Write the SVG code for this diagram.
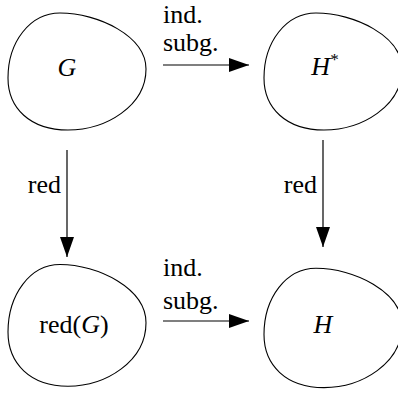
<svg xmlns="http://www.w3.org/2000/svg" xmlns:xlink="http://www.w3.org/1999/xlink" width="398" height="394" viewBox="0 0 398 394">
<style>
.blob{fill:none;stroke:#000;stroke-width:1.1}
text{font-family:"Liberation Serif","Times New Roman",serif;font-size:26px;fill:#000}
.m{font-style:italic}
.c{stroke:#000;stroke-width:1.2;fill:none}
</style>
<defs>
<path id="blob" d="M 60,13 C 98,13 146,36 146,69 C 146,106 106,130 68,130 C 30,130 8,108 8,78 C 8,42 30,13 60,13 Z"/>
<marker id="ah" markerUnits="userSpaceOnUse" markerWidth="22" markerHeight="16" refX="20" refY="7" orient="auto" viewBox="0 0 22 16">
<path d="M0,0 L20,7 L0,14 Z" fill="#000"/>
</marker>
</defs>
<g id="connectors">
<line class="c" x1="163" y1="65" x2="249" y2="65" marker-end="url(#ah)"/>
<line class="c" x1="163" y1="321" x2="249" y2="321" marker-end="url(#ah)"/>
<line class="c" x1="67" y1="150" x2="67" y2="257" marker-end="url(#ah)"/>
<line class="c" x1="323" y1="140" x2="323" y2="247" marker-end="url(#ah)"/>
<text x="163" y="23">ind.</text>
<text x="163" y="51">subg.</text>
<text x="163" y="276">ind.</text>
<text x="163" y="309">subg.</text>
<text x="61" y="193" text-anchor="end">red</text>
<text x="317" y="193" text-anchor="end">red</text>
</g>
<g id="G">
<use xlink:href="#blob" class="blob"/>
<text class="m" x="67" y="76" text-anchor="middle">G</text>
</g>
<g id="Hstar">
<use xlink:href="#blob" class="blob" transform="translate(256,0)"/>
<text x="325" y="75" text-anchor="middle"><tspan class="m">H</tspan><tspan font-size="17" dy="-10">*</tspan></text>
</g>
<g id="redG">
<use xlink:href="#blob" class="blob" transform="translate(0,251) scale(1,1.04)"/>
<text x="74" y="333" text-anchor="middle">red(<tspan class="m">G</tspan>)</text>
</g>
<g id="H">
<use xlink:href="#blob" class="blob" transform="translate(256,255) scale(1,1.02)"/>
<text class="m" x="323" y="333" text-anchor="middle">H</text>
</g>
</svg>
